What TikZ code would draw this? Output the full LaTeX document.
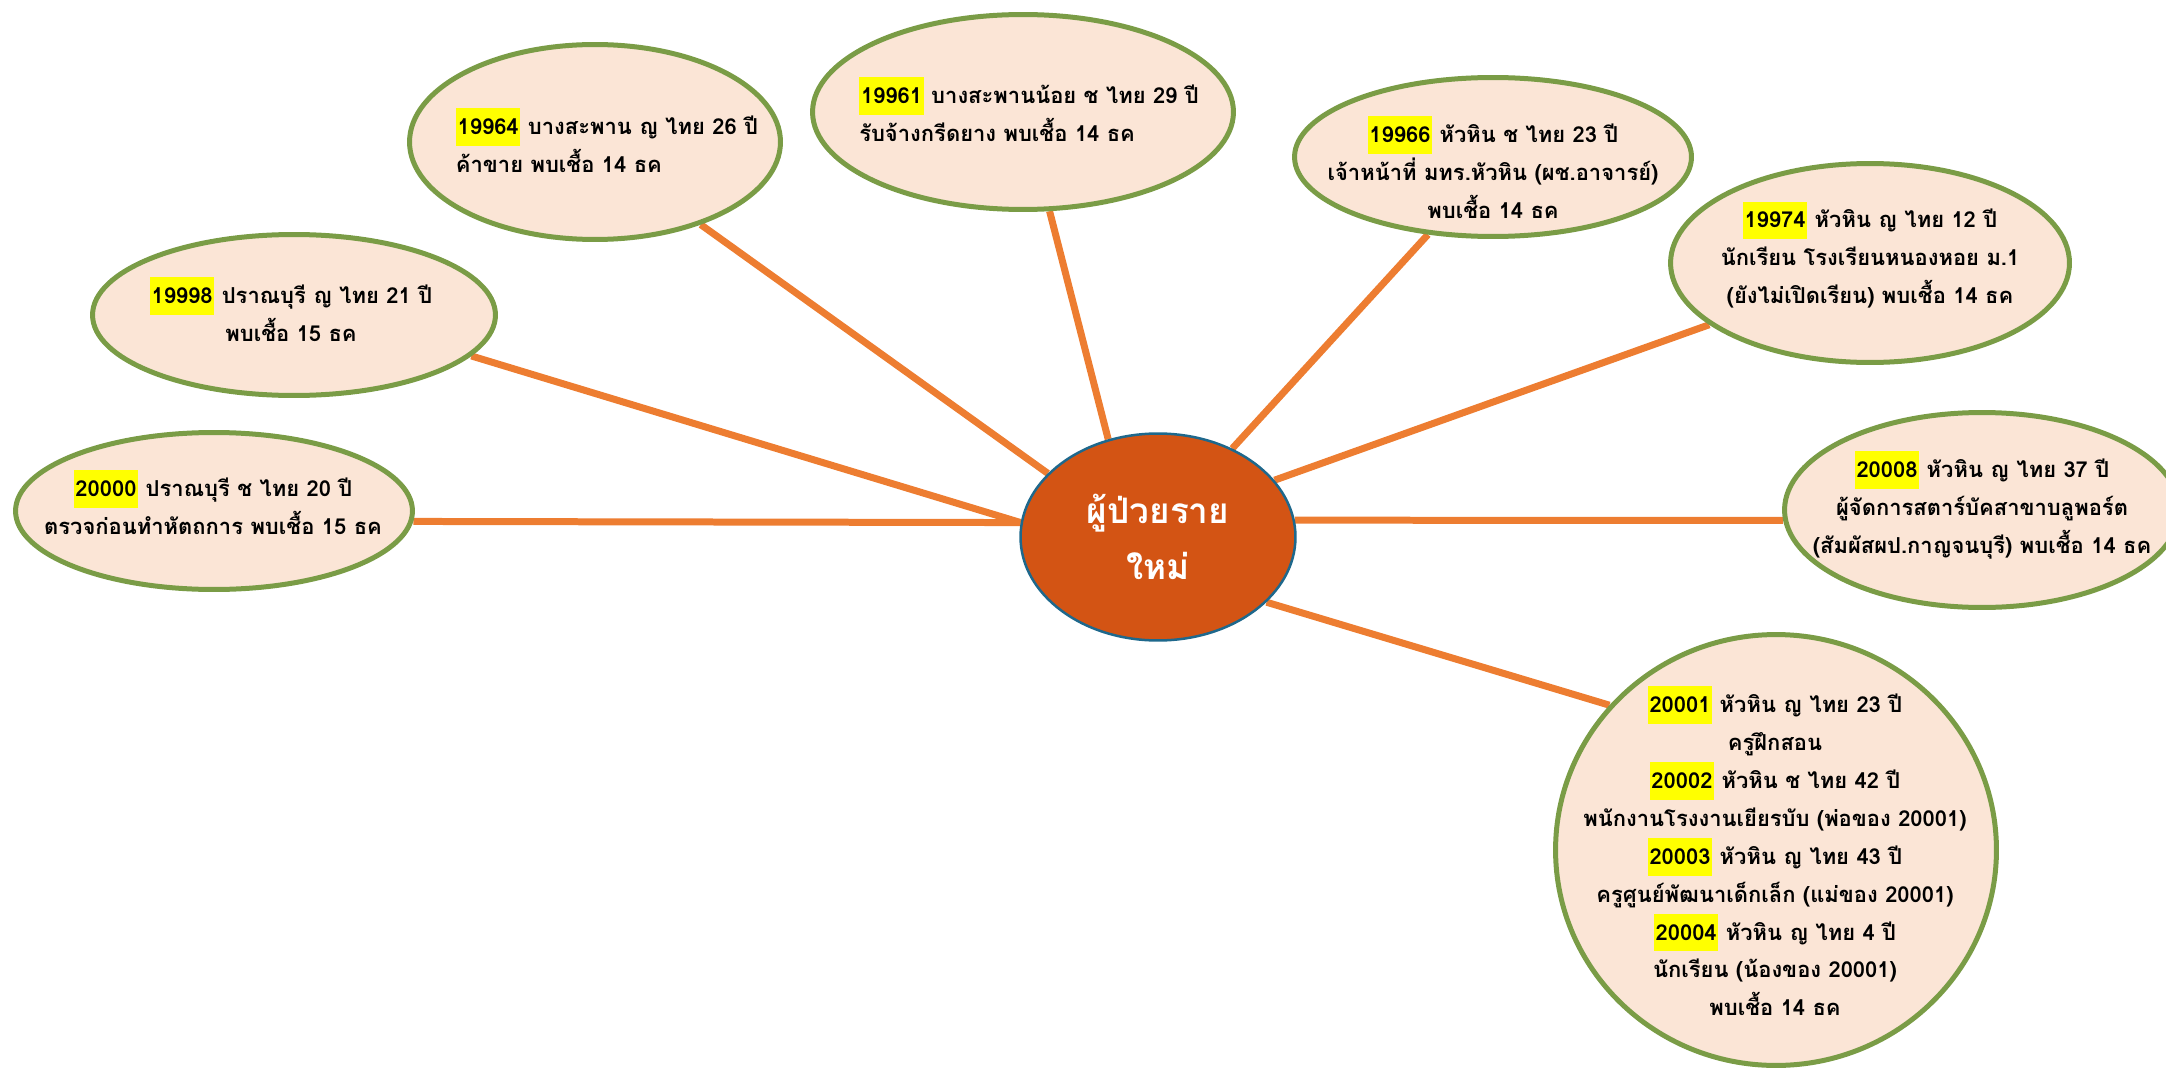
\documentclass[tikz,border=0pt]{standalone}
\usepackage{fontspec}
\newfontfamily\thaifont[Script=Thai]{Loma}
\usetikzlibrary{shapes.geometric,backgrounds}
\definecolor{peach}{RGB}{251,229,214}
\definecolor{olivegreen}{RGB}{122,156,70}
\definecolor{linkorange}{RGB}{237,125,49}
\definecolor{huborange}{RGB}{211,84,20}
\definecolor{hubblue}{RGB}{30,104,140}
\definecolor{hlyellow}{RGB}{255,255,0}
\newcommand{\caseno}[1]{{\setlength{\fboxsep}{0pt}\colorbox{hlyellow}{\rule[-6.5pt]{0pt}{21.5pt}\kern1pt#1\kern1pt}}}

\begin{document}
\begin{tikzpicture}[x=0.02cm,y=-0.02cm,
  case/.style={ellipse,draw=olivegreen,line width=0.1cm,fill=peach,inner sep=0pt},
  casetext/.style={align=center,font=\thaifont\bfseries\fontsize{12.5}{21.6}\selectfont},
  link/.style={draw=linkorange,line width=0.14cm}]
  \useasboundingbox (0,0) rectangle (2166,1071);
  \clip (0,0) rectangle (2166,1071);

  % Centre
  \node[ellipse,draw=hubblue,line width=0.05cm,fill=huborange,minimum width=5.5cm,minimum height=4.14cm,
        text=white,align=center,font=\thaifont\bfseries\fontsize{20}{31.7}\selectfont] (hub) at (1158,537) {ผู้ป่วยราย\\ใหม่};

  % Cases
  \node[case,minimum width=7.42cm,minimum height=3.9cm] (n19964) at (595,142) {};
  \node[case,minimum width=8.42cm,minimum height=3.9cm] (n19961) at (1023,112) {};
  \node[case,minimum width=7.94cm,minimum height=3.18cm] (n19966) at (1493,157) {};
  \node[case,minimum width=7.98cm,minimum height=3.98cm] (n19974) at (1870,263) {};
  \node[case,minimum width=8.06cm,minimum height=3.22cm] (n19998) at (294,315) {};
  \node[case,minimum width=7.94cm,minimum height=3.14cm] (n20000) at (214,511) {};
  \node[case,minimum width=7.9cm,minimum height=3.9cm] (n20008) at (1982,510) {};
  \node[case,minimum width=8.82cm,minimum height=8.62cm] (n20001) at (1776,850) {};

  % Texts
  \node[casetext,align=left] at (607,140) {\caseno{19964} บางสะพาน ญ ไทย 26 ปี\\ค้าขาย พบเชื้อ 14 ธค};
  \node[casetext,align=left] at (1029,109) {\caseno{19961} บางสะพานน้อย ช ไทย 29 ปี\\รับจ้างกรีดยาง พบเชื้อ 14 ธค};
  \node[casetext] at (1493,167) {\caseno{19966} หัวหิน ช ไทย 23 ปี\\เจ้าหน้าที่ มทร.หัวหิน (ผช.อาจารย์)\\พบเชื้อ 14 ธค};
  \node[casetext] at (1870,255) {\caseno{19974} หัวหิน ญ ไทย 12 ปี\\นักเรียน โรงเรียนหนองหอย ม.1\\(ยังไม่เปิดเรียน) พบเชื้อ 14 ธค};
  \node[casetext] at (291,309) {\caseno{19998} ปราณบุรี ญ ไทย 21 ปี\\พบเชื้อ 15 ธค};
  \node[casetext] at (213,502) {\caseno{20000} ปราณบุรี ช ไทย 20 ปี\\ตรวจก่อนทำหัตถการ พบเชื้อ 15 ธค};
  \node[casetext] at (1982,505) {\caseno{20008} หัวหิน ญ ไทย 37 ปี\\ผู้จัดการสตาร์บัคสาขาบลูพอร์ต\\(สัมผัสผป.กาญจนบุรี) พบเชื้อ 14 ธค};
  \node[casetext] at (1775,851) {\caseno{20001} หัวหิน ญ ไทย 23 ปี\\ครูฝึกสอน\\\caseno{20002} หัวหิน ช ไทย 42 ปี\\พนักงานโรงงานเยียรบับ (พ่อของ 20001)\\\caseno{20003} หัวหิน ญ ไทย 43 ปี\\ครูศูนย์พัฒนาเด็กเล็ก (แม่ของ 20001)\\\caseno{20004} หัวหิน ญ ไทย 4 ปี\\นักเรียน (น้องของ 20001)\\พบเชื้อ 14 ธค};

  % Links
  \begin{scope}[on background layer]
    \draw[link] (hub.150) -- (n19964.-38);
    \draw[link] (hub.117) -- (n19961.-75);
    \draw[link] (hub.50) -- (n19966.-130);
    \draw[link] (hub.26) -- (n19974.-159);
    \draw[link] (hub.174) -- (n19998.-13);
    \draw[link] (hub.174) -- (n20000.-3);
    \draw[link] (hub.7) -- (n20008.-177);
    \draw[link] (hub.-31) -- (n20001.139);
  \end{scope}
\end{tikzpicture}
\end{document}
